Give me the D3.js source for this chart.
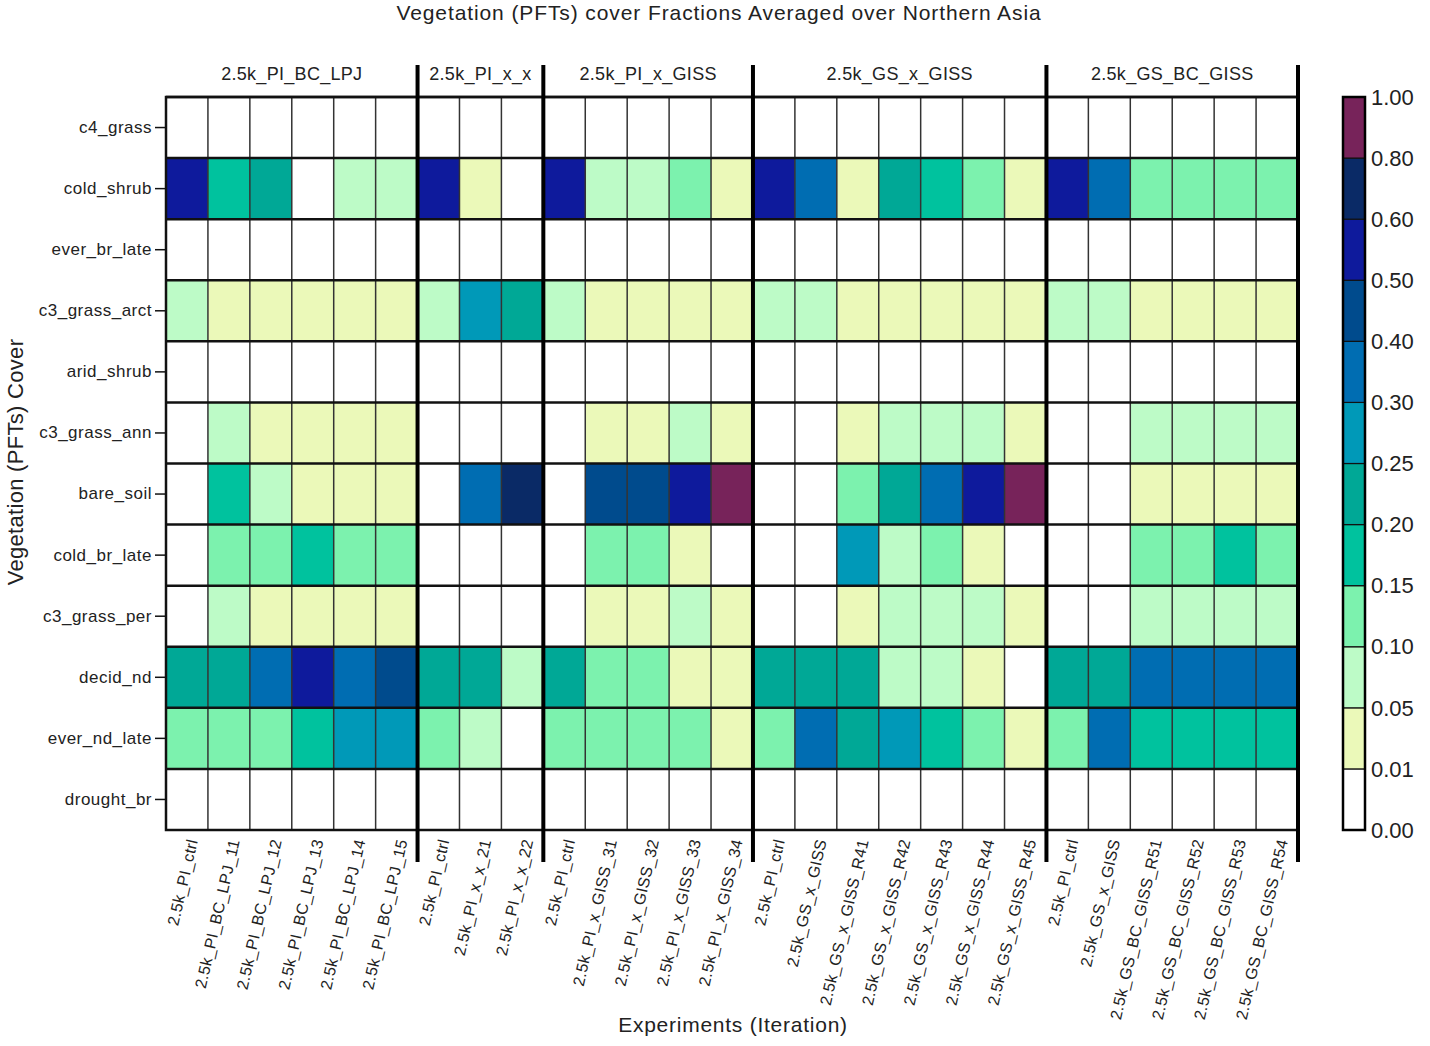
<!DOCTYPE html>
<html>
<head>
<meta charset="utf-8">
<script src="https://cdn.jsdelivr.net/npm/d3@7"></script>
<style>
  body { margin: 0; background: #fff; }
  text { font-family: "Liberation Sans", "DejaVu Sans", sans-serif; fill: #222; }
</style>
</head>
<body>
<svg id="chart" width="1430" height="1046"></svg>
<script>
// experiment groups and their runs
const groups = ["2.5k_PI_BC_LPJ", "2.5k_PI_x_x", "2.5k_PI_x_GISS", "2.5k_GS_x_GISS", "2.5k_GS_BC_GISS"];
const groupRuns = [
  ["2.5k_PI_ctrl", "2.5k_PI_BC_LPJ_11", "2.5k_PI_BC_LPJ_12", "2.5k_PI_BC_LPJ_13", "2.5k_PI_BC_LPJ_14", "2.5k_PI_BC_LPJ_15"],
  ["2.5k_PI_ctrl", "2.5k_PI_x_x_21", "2.5k_PI_x_x_22"],
  ["2.5k_PI_ctrl", "2.5k_PI_x_GISS_31", "2.5k_PI_x_GISS_32", "2.5k_PI_x_GISS_33", "2.5k_PI_x_GISS_34"],
  ["2.5k_PI_ctrl", "2.5k_GS_x_GISS", "2.5k_GS_x_GISS_R41", "2.5k_GS_x_GISS_R42", "2.5k_GS_x_GISS_R43", "2.5k_GS_x_GISS_R44", "2.5k_GS_x_GISS_R45"],
  ["2.5k_PI_ctrl", "2.5k_GS_x_GISS", "2.5k_GS_BC_GISS_R51", "2.5k_GS_BC_GISS_R52", "2.5k_GS_BC_GISS_R53", "2.5k_GS_BC_GISS_R54"]
];

const pfts = ["c4_grass", "cold_shrub", "ever_br_late", "c3_grass_arct", "arid_shrub", "c3_grass_ann",
  "bare_soil", "cold_br_late", "c3_grass_per", "decid_nd", "ever_nd_late", "drought_br"];

// cover fraction per PFT, 27 experiments
const c4_grass      = [0,0,0,0,0,0, 0,0,0, 0,0,0,0,0, 0,0,0,0,0,0,0, 0,0,0,0,0,0];
const cold_shrub    = [0.55,0.17,0.22,0.005,0.07,0.07, 0.55,0.03,0.005, 0.55,0.07,0.07,0.12,0.03, 0.55,0.35,0.03,0.22,0.17,0.12,0.03, 0.55,0.35,0.12,0.12,0.12,0.12];
const ever_br_late  = [0,0,0,0,0,0, 0,0,0, 0,0,0,0,0, 0,0,0,0,0,0,0, 0,0,0,0,0,0];
const c3_grass_arct = [0.07,0.03,0.03,0.03,0.03,0.03, 0.07,0.27,0.22, 0.07,0.03,0.03,0.03,0.03, 0.07,0.07,0.03,0.03,0.03,0.03,0.03, 0.07,0.07,0.03,0.03,0.03,0.03];
const arid_shrub    = [0,0,0,0,0,0, 0,0,0, 0,0,0,0,0, 0,0,0,0,0,0,0, 0,0,0,0,0,0];
const c3_grass_ann  = [0.005,0.07,0.03,0.03,0.03,0.03, 0.005,0.005,0.005, 0.005,0.03,0.03,0.07,0.03, 0.005,0.005,0.03,0.07,0.07,0.07,0.03, 0.005,0.005,0.07,0.07,0.07,0.07];
const bare_soil     = [0.005,0.17,0.07,0.03,0.03,0.03, 0.005,0.35,0.7, 0.005,0.45,0.45,0.55,0.9, 0.005,0.005,0.12,0.22,0.35,0.55,0.9, 0.005,0.005,0.03,0.03,0.03,0.03];
const cold_br_late  = [0.005,0.12,0.12,0.17,0.12,0.12, 0.005,0.005,0.005, 0.005,0.12,0.12,0.03,0.005, 0.005,0.005,0.27,0.07,0.12,0.03,0.005, 0.005,0.005,0.12,0.12,0.17,0.12];
const c3_grass_per  = [0.005,0.07,0.03,0.03,0.03,0.03, 0.005,0.005,0.005, 0.005,0.03,0.03,0.07,0.03, 0.005,0.005,0.03,0.07,0.07,0.07,0.03, 0.005,0.005,0.07,0.07,0.07,0.07];
const decid_nd      = [0.22,0.22,0.35,0.55,0.35,0.45, 0.22,0.22,0.07, 0.22,0.12,0.12,0.03,0.03, 0.22,0.22,0.22,0.07,0.07,0.03,0.005, 0.22,0.22,0.35,0.35,0.35,0.35];
const ever_nd_late  = [0.12,0.12,0.12,0.17,0.27,0.27, 0.12,0.07,0.005, 0.12,0.12,0.12,0.12,0.03, 0.12,0.35,0.22,0.27,0.17,0.12,0.03, 0.12,0.35,0.17,0.17,0.17,0.17];
const drought_br    = [0,0,0,0,0,0, 0,0,0, 0,0,0,0,0, 0,0,0,0,0,0,0, 0,0,0,0,0,0];

const rows = [c4_grass, cold_shrub, ever_br_late, c3_grass_arct, arid_shrub, c3_grass_ann,
  bare_soil, cold_br_late, c3_grass_per, decid_nd, ever_nd_late, drought_br];

// colour bar
const levels = [0.00, 0.01, 0.05, 0.10, 0.15, 0.20, 0.25, 0.30, 0.40, 0.50, 0.60, 0.80, 1.00];
const colors = ["#ffffff", "#ebf9b9", "#bdfbc7", "#7cf2ae", "#00c29e", "#00a896",
  "#0099b8", "#006db2", "#004b8d", "#0e1a9c", "#0a2a66", "#77235a"];

const svg = d3.select("#chart");
const margin = { left: 166, right: 1298, top: 97, bottom: 830 };

const cols = groupRuns.flat();
const colIdx = d3.range(cols.length);

const x = d3.scaleBand().domain(colIdx).range([margin.left, margin.right]);
const y = d3.scaleBand().domain(pfts).range([margin.top, margin.bottom]);
const color = d3.scaleThreshold().domain(levels.slice(1, -1)).range(colors);

const cells = [];
rows.forEach((vals, r) => vals.forEach((v, c) => cells.push({ pft: pfts[r], col: c, v })));

svg.append("g").selectAll("rect")
  .data(cells)
  .enter()
  .append("rect")
  .attr("x", d => x(d.col))
  .attr("y", d => y(d.pft))
  .attr("width", x.bandwidth())
  .attr("height", y.bandwidth())
  .attr("fill", d => color(d.v));

// grid: thin column lines, darker row lines
svg.append("g").selectAll("line")
  .data(colIdx.slice(1))
  .enter()
  .append("line")
  .attr("x1", d => x(d)).attr("x2", d => x(d))
  .attr("y1", margin.top).attr("y2", margin.bottom)
  .attr("stroke", "#333").attr("stroke-width", 1.5);

svg.append("g").selectAll("line")
  .data(pfts)
  .enter()
  .append("line")
  .attr("x1", margin.left).attr("x2", margin.right)
  .attr("y1", d => y(d)).attr("y2", d => y(d))
  .attr("stroke", "#111").attr("stroke-width", 2.5);

svg.append("rect")
  .attr("x", margin.left).attr("y", margin.top)
  .attr("width", margin.right - margin.left).attr("height", margin.bottom - margin.top)
  .attr("fill", "none").attr("stroke", "#111").attr("stroke-width", 2.5);

// group separators and group labels
let start = 0;
const bounds = groupRuns.map(g => { const b = [start, start + g.length]; start += g.length; return b; });

bounds.forEach((b, i) => {
  const x0 = x(b[0]);
  const x1 = x(b[1] - 1) + x.bandwidth();
  svg.append("text")
    .attr("x", (x0 + x1) / 2)
    .attr("y", 80)
    .attr("text-anchor", "middle")
    .attr("font-size", "18px")
    .attr("letter-spacing", "0.3px")
    .text(groups[i]);
  if (i > 0) {
    svg.append("line")
      .attr("x1", x0).attr("x2", x0)
      .attr("y1", 65).attr("y2", 862)
      .attr("stroke", "#000").attr("stroke-width", 4);
  }
});
svg.append("line")
  .attr("x1", margin.right).attr("x2", margin.right)
  .attr("y1", 65).attr("y2", 862)
  .attr("stroke", "#000").attr("stroke-width", 4);

// y axis
const yAxis = svg.append("g")
  .attr("transform", `translate(${margin.left},0)`)
  .call(d3.axisLeft(y).tickSize(11).tickPadding(3));
yAxis.select(".domain").remove();
yAxis.selectAll(".tick line").attr("stroke", "#111").attr("stroke-width", 1.5);
yAxis.selectAll(".tick text")
  .attr("font-size", "17px")
  .attr("letter-spacing", "0.5px")
  .attr("font-family", "Liberation Sans, sans-serif")
  .attr("fill", "#222");

// x axis, slanted labels
const xAxis = svg.append("g")
  .attr("transform", `translate(0,${margin.bottom})`)
  .call(d3.axisBottom(x).tickSize(0).tickFormat(i => cols[i]));
xAxis.select(".domain").remove();
xAxis.selectAll(".tick text")
  .attr("font-size", "16px")
  .attr("letter-spacing", "0.3px")
  .attr("font-family", "Liberation Sans, sans-serif")
  .attr("fill", "#222")
  .attr("text-anchor", "end")
  .attr("dy", "0")
  .attr("transform", "translate(8,10) rotate(-77)");

// axis titles
svg.append("text")
  .attr("x", 719).attr("y", 20)
  .attr("text-anchor", "middle")
  .attr("font-size", "21px")
  .attr("letter-spacing", "0.9px")
  .text("Vegetation (PFTs) cover Fractions Averaged over Northern Asia");

svg.append("text")
  .attr("transform", "translate(23,462) rotate(-90)")
  .attr("text-anchor", "middle")
  .attr("font-size", "22px")
  .attr("letter-spacing", "0.3px")
  .text("Vegetation (PFTs) Cover");

svg.append("text")
  .attr("x", 733).attr("y", 1032)
  .attr("text-anchor", "middle")
  .attr("font-size", "21px")
  .attr("letter-spacing", "0.75px")
  .text("Experiments (Iteration)");

// colour bar: equal-height boxes per level
const cb = d3.scaleLinear().domain([0, levels.length - 1]).range([margin.bottom, margin.top]);
const cbX = 1343, cbW = 22;

svg.append("g").selectAll("rect")
  .data(colors)
  .enter()
  .append("rect")
  .attr("x", cbX)
  .attr("y", (_, i) => cb(i + 1))
  .attr("width", cbW)
  .attr("height", (_, i) => cb(i) - cb(i + 1))
  .attr("fill", d => d)
  .attr("stroke", "#111")
  .attr("stroke-width", 1.2);

svg.append("rect")
  .attr("x", cbX).attr("y", margin.top)
  .attr("width", cbW).attr("height", margin.bottom - margin.top)
  .attr("fill", "none").attr("stroke", "#000").attr("stroke-width", 2.5);

svg.append("g").selectAll("text")
  .data(levels)
  .enter()
  .append("text")
  .attr("x", 1371)
  .attr("y", (_, i) => cb(i))
  .attr("dy", "0.35em")
  .attr("font-size", "22px")
  .text(d => d.toFixed(2));
</script>
</body>
</html>
